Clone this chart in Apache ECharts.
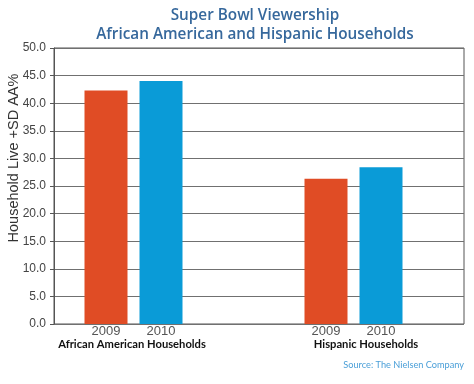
<!DOCTYPE html>
<html><head><meta charset="utf-8">
<script src="https://cdn.jsdelivr.net/npm/echarts@6/dist/echarts.min.js"></script>
<style>html,body{margin:0;padding:0;background:#fff}#c{width:474px;height:384px}</style>
</head><body><div id="c"></div>
<script>
const groups = ['African American Households', 'Hispanic Households'];
const years = ['2009', '2010'];
const values2009 = [42.3, 26.3];
const values2010 = [44.0, 28.4];
const yTicks = { min: 0, max: 50, interval: 5 };
const yName = 'Household Live +SD AA%';

// slot layout: each group gets one slot per year, groups separated by empty slots
const slots = [];
const s2009 = [], s2010 = [];
const groupSlots = [];
groups.forEach((g, gi) => {
  groupSlots.push(slots.length);
  slots.push(years[0]); s2009.push(values2009[gi]); s2010.push('-');
  slots.push(years[1]); s2009.push('-'); s2010.push(values2010[gi]);
  const gaps = gi === 0 ? 2 : 1;
  for (let k = 0; k < gaps; k++) { slots.push(''); s2009.push('-'); s2010.push('-'); }
});

const chart = echarts.init(document.getElementById('c'));
const gridTop = 48, gridBottom = 60;
chart.setOption({
  animation: false,
  backgroundColor: '#fff',
  title: {
    text: 'Super Bowl Viewership\nAfrican American and Hispanic Households',
    left: 250, textAlign: 'center', top: 1,
    textStyle: { fontFamily: 'Open Sans', fontSize: 15.3, fontWeight: 600, color: '#36689c', lineHeight: 19 }
  },
  grid: [
    { left: 54, right: 10, top: gridTop, bottom: gridBottom, show: true, borderColor: '#555', borderWidth: 1, outerBoundsMode: 'none', containLabel: false },
    { left: 78.5, right: 10.5, top: gridTop, bottom: gridBottom, outerBoundsMode: 'none', containLabel: false }
  ],
  xAxis: [
    { gridIndex: 0, type: 'value', min: 0, max: 1, show: false },
    { gridIndex: 1, type: 'category', data: slots,
      axisLine: { show: false }, axisTick: { show: false },
      axisLabel: { interval: 0, margin: 1, color: '#555', fontFamily: 'Liberation Sans', fontSize: 13 } }
  ],
  yAxis: [
    { gridIndex: 0, type: 'value', min: yTicks.min, max: yTicks.max, interval: yTicks.interval,
      axisLine: { show: true, lineStyle: { color: '#555' } },
      axisTick: { show: true, inside: false, length: 4, lineStyle: { color: '#555' } },
      axisLabel: { formatter: v => v.toFixed(1), margin: 8, color: '#444', fontFamily: 'Liberation Sans', fontSize: 12 },
      splitLine: { show: true, lineStyle: { color: '#707070', width: 1 } } },
    { gridIndex: 1, type: 'value', min: yTicks.min, max: yTicks.max, show: false }
  ],
  series: [
    { name: years[0], type: 'bar', xAxisIndex: 1, yAxisIndex: 1, stack: 'a', barWidth: 43,
      itemStyle: { color: '#E04C25' }, data: s2009 },
    { name: years[1], type: 'bar', xAxisIndex: 1, yAxisIndex: 1, stack: 'a', barWidth: 43,
      itemStyle: { color: '#0A9BD7' }, data: s2010 }
  ]
});

const baseY = chart.convertToPixel({ yAxisIndex: 1 }, 0);
const texts = groups.map((g, gi) => {
  const a = chart.convertToPixel({ xAxisIndex: 1 }, groupSlots[gi]);
  const b = chart.convertToPixel({ xAxisIndex: 1 }, groupSlots[gi] + 1);
  return { type: 'text', x: (a + b) / 2 + (gi === 0 ? -1.5 : 12.5), y: baseY + 20.5,
    style: { text: g, textAlign: 'center', textVerticalAlign: 'middle', fill: '#111',
      font: 'bold 11.2px Lato' } };
});
texts.push({ type: 'text', x: 13.5, y: 158, rotation: Math.PI / 2,
  style: { text: yName, textAlign: 'center', textVerticalAlign: 'middle', fill: '#333',
    font: '14.5px "Liberation Sans"' } });
texts.push({ type: 'text', right: 10, top: 361,
  style: { text: 'Source: The Nielsen Company', fill: '#4a9fd8', font: '9.2px Lato' } });
chart.setOption({ graphic: texts });
</script></body></html>
